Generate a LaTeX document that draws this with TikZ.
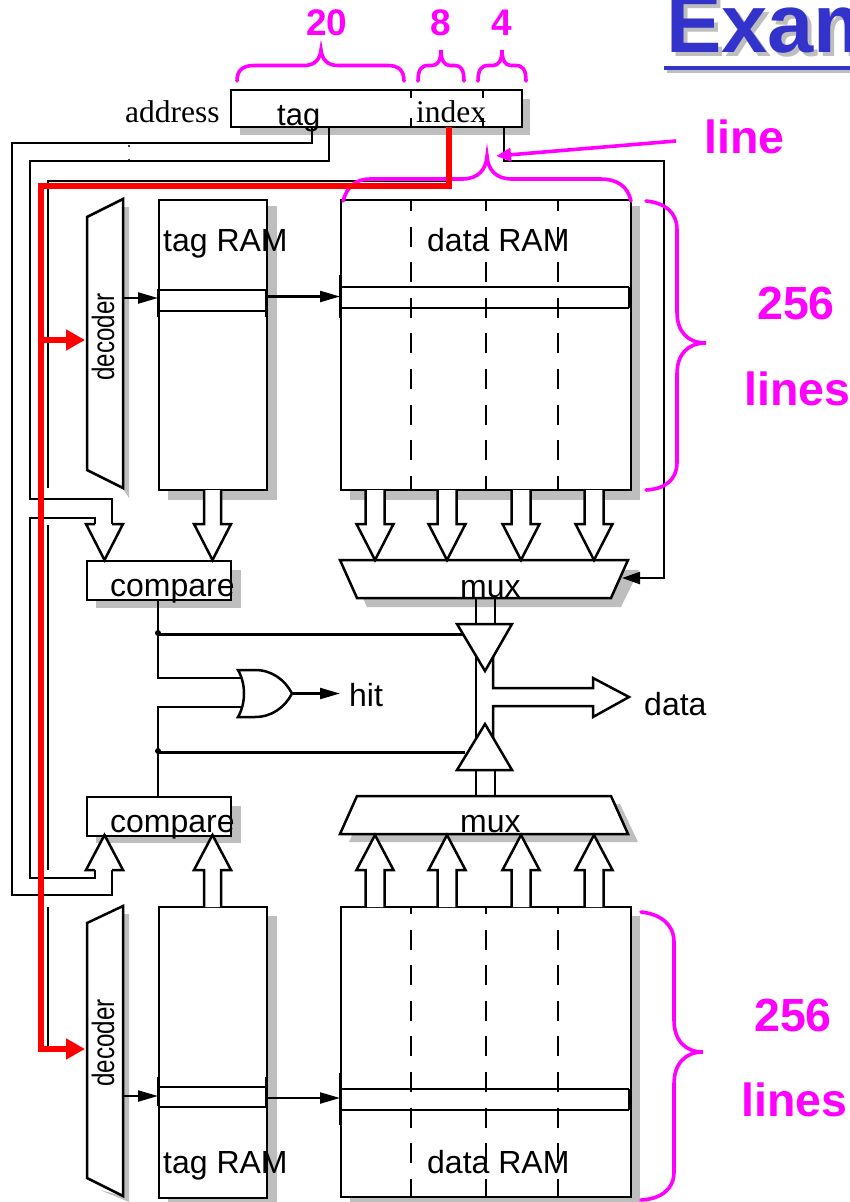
\documentclass[tikz,border=0pt]{standalone}
\usepackage{fontspec}
\setmainfont{Liberation Sans}
\newfontfamily\timesf{Liberation Serif}
\usetikzlibrary{arrows.meta,calc}
\definecolor{mag}{RGB}{255,0,255}
\definecolor{ttl}{RGB}{51,51,204}
\definecolor{shd}{RGB}{190,190,190}
\newcommand{\hollow}[5]{% tip x, start y, neck y, tip y, half stem
  \draw[wire,fill=white,line join=miter] ({#1-#5},#2) -- ({#1-#5},#3) -- ({#1-18.5},#3) -- (#1,#4) -- ({#1+18.5},#3) -- ({#1+#5},#3) -- ({#1+#5},#2);}
\tikzset{
  x=1pt,y=-1pt,
  wire/.style={line width=2.5pt,black},
  thin wire/.style={line width=2.2pt,black},
  ink/.style={draw=black,line width=2.5pt,fill=white,inner sep=0pt,outer sep=0pt},
  rowline/.style={line width=2.5pt},
  cut/.style={line width=2.2pt,dash pattern=on 20pt off 15.6pt},
  lab/.style={inner sep=0pt,anchor=base west,font=\fontsize{32}{36}\selectfont},
  rmn/.style={inner sep=0pt,anchor=base west,font=\timesf\fontsize{31.5}{36}\selectfont},
  big/.style={inner sep=0pt,anchor=base west,text=mag,font=\bfseries\fontsize{46.5}{50}\selectfont},
  bits/.style={inner sep=0pt,anchor=base,text=mag,font=\bfseries\fontsize{37}{40}\selectfont},
  brace/.style={draw=mag,line width=3.6pt,line cap=round},
  head/.style={-{Triangle[length=20pt,width=11pt]},line width=2.2pt},
  redhead/.style={-{Triangle[length=19pt,width=20pt]},line width=6pt,draw=red},
}
\begin{document}
\begin{tikzpicture}
\useasboundingbox (0,0) rectangle (850,1202);
% title
\node[inner sep=0pt,anchor=base west,text=shd,font=\bfseries\fontsize{83}{90}\selectfont] (titleshadow) at (670,56) {Exam};
\node[inner sep=0pt,anchor=base west,text=ttl,font=\bfseries\fontsize{83}{90}\selectfont] (title) at (666,52) {Exam};
\fill[shd] (667,69) rectangle (850,73);
\fill[ttl] (664,66) rectangle (850,70);
% shadows
\fill[shd] (240,99) rectangle (530,135);
\fill[shd] (129,207) -- (123,207) -- (123,489) -- (129,498) -- cycle;
\fill[shd] (168,206) rectangle (277,500);
\fill[shd] (350,206) rectangle (640,500);
\fill[shd] (96,570) rectangle (241,608);
\fill[shd] (96,806) rectangle (241,843);
\fill[shd] (349,568) -- (639,570) -- (621,607) -- (367,607) -- cycle;
\fill[shd] (367,804) -- (620,804) -- (638,842) -- (349,842) -- cycle;
\fill[shd] (129,914) -- (123,914) -- (123,1196) -- (100,1190) -- (129,1202) -- cycle;
\fill[shd] (168,916) rectangle (277,1202);
\fill[shd] (350,916) rectangle (640,1202);
% main boxes
\node[ink,minimum width=291pt,minimum height=37pt] (addr) at (376.5,108.5) {};
\node[ink,minimum width=108pt,minimum height=290pt] (tagA) at (213,345) {};
\node[ink,minimum width=290pt,minimum height=290pt] (dataA) at (486,345) {};
\node[ink,minimum width=108pt,minimum height=291pt] (tagB) at (213,1052.5) {};
\node[ink,minimum width=290pt,minimum height=290pt] (dataB) at (486,1052) {};
\node[ink,minimum width=144pt,minimum height=39pt] (cmpA) at (159,580.5) {};
\node[ink,minimum width=144pt,minimum height=39pt] (cmpB) at (159,816.5) {};
\draw[wire,fill=white] (87,217) -- (123,199) -- (123,488) -- (87,470) -- cycle;
\draw[wire,fill=white] (87,923) -- (123,906) -- (123,1196) -- (87,1178) -- cycle;
\draw[wire,fill=white] (340,560) -- (628,560) -- (611,598) -- (357,598) -- cycle;
\draw[wire,fill=white] (357,796) -- (611,796) -- (628,834) -- (340,834) -- cycle;
% RAM rows
\coordinate (decAout) at (123,298);
\coordinate (rowTagAin) at (158,298);
\coordinate (rowTagAout) at (267,296.5);
\coordinate (rowDataAin) at (340,296.5);
\coordinate (decBout) at (123,1096);
\coordinate (rowTagBin) at (158,1096);
\coordinate (rowTagBout) at (267,1098);
\coordinate (rowDataBin) at (340,1098);
\draw[rowline] (159,290) -- (267,290) (159,311) -- (267,311);
\draw[rowline] (341,287) -- (629,287) (341,308) -- (629,308);
\draw[line width=3pt] (158,289) -- (158,317) (266,289) -- (266,317) (340,275) -- (340,318) (629,287) -- (629,308);
\draw[rowline] (159,1087) -- (267,1087) (159,1107) -- (267,1107);
\draw[rowline] (341,1089) -- (629,1089) (341,1110) -- (629,1110);
\draw[line width=3pt] (158,1077) -- (158,1106) (266,1077) -- (266,1107) (340,1073) -- (340,1125) (629,1089) -- (629,1110);
% column dashes
\foreach \cx in {411,486,558}{
  \draw[cut,dash phase=9pt] (\cx,200) -- (\cx,490);
  \draw[cut,dash phase=13pt] (\cx,907) -- (\cx,1197);
}
\draw[line width=2.2pt] (411,90) -- (411,98) (411,118) -- (411,127) (483,90) -- (483,98) (483,118) -- (483,127);
% wires
\coordinate (tagOutA) at (312,127);
\coordinate (tagOutB) at (329,127);
\coordinate (lineOut) at (504,127);
\draw[wire] (tagOutA) -- (312,143) -- (12,143) -- (12,895) -- (112,895) -- (112,870);
\draw[wire] (tagOutB) -- (329,161) -- (30,161) -- (30,499) -- (112,499) -- (112,524);
\draw[wire] (95,524) -- (95,518) -- (30,518) -- (30,878) -- (95,878) -- (95,870);
\fill (129,146) circle (1.2pt) (129,160) circle (1.2pt);
\draw[wire,fill=white,line join=miter] (95,524) -- (86,524) -- (104.5,560) -- (123,524) -- (112,524);
\draw[wire,fill=white,line join=miter] (95,870) -- (86,870) -- (104.5,835) -- (123,870) -- (112,870);
\hollow{212.5}{490}{524}{560}{8.5}
\hollow{212.5}{907}{870}{835}{8.5}
\foreach \tx in {375,447,521,594}{
  \hollow{\tx}{490}{524}{560}{9.5}
  \hollow{\tx}{907}{870}{835}{9.5}
}
\draw[thin wire] (48,488) -- (48,181) -- (449,181);
\draw[thin wire] (48,525) -- (48,870);
\draw[thin wire] (48,907) -- (48,1049) -- (66,1049);
% line select
\draw[wire,-{Triangle[length=18pt,width=12pt]}] (lineOut) -- (504,161) -- (664,161) -- (664,578) -- (622,578);
% buffers + output
\draw[wire] (476,598) -- (476,624) (495,598) -- (495,624);
\draw[wire] (476,796) -- (476,770) (495,796) -- (495,770);
\draw[wire] (476,650) -- (476,745);
\draw[wire,fill=white] (493,655) -- (493,688) -- (593,688) -- (593,678) -- (629,697) -- (593,717) -- (593,706) -- (493,706) -- (493,740);
\draw[wire,fill=white] (457,624) -- (512,624) -- (485,671) -- cycle;
\draw[wire,fill=white] (457,770) -- (512,770) -- (485,724) -- cycle;
% compare outputs + OR
\coordinate (orInA) at (241,678);
\coordinate (orInB) at (241,707);
\coordinate (orOut) at (293,693.5);
\coordinate (hitEnd) at (340,693.5);
\draw[wire] (158,600) -- (158,678) -- (orInA);
\draw[wire] (158,797) -- (158,707) -- (orInB);
\draw[wire] (158,634.5) -- (464,634.5);
\draw[wire] (158,752.5) -- (465,752.5);
\fill (158,633) circle (3pt) (158,751) circle (3pt);
\draw[wire,fill=white] (238,670) -- (255,670) .. controls (272,670) and (285,680) .. (292,693.5) .. controls (285,707) and (272,717) .. (255,717) -- (238,717) .. controls (246,703) and (246,684) .. (238,670) -- cycle;
\draw[head] (orOut) -- (hitEnd);
% row arrows
\draw[head] (decAout) -- (rowTagAin);
\draw[head] (rowTagAout) -- (rowDataAin);
\draw[head] (decBout) -- (rowTagBin);
\draw[head] (rowTagBout) -- (rowDataBin);
% texts
\node[rmn] (addressT) at (125,122) {address};
\node[lab,font=\fontsize{31}{36}\selectfont] (tagT) at (277,125) {tag};
\node[rmn] (indexT) at (416,122) {index};
\node[lab] (tagAT) at (163,251) {tag RAM};
\node[lab] (dataAT) at (427,251) {data RAM};
\node[lab] (tagBT) at (163,1173) {tag RAM};
\node[lab] (dataBT) at (427,1173) {data RAM};
\node[lab] (cmpAT) at (110,596) {compare};
\node[lab] (cmpBT) at (110,832) {compare};
\node[lab] (muxAT) at (460,597) {mux};
\node[lab] (muxBT) at (460,832) {mux};
\node[lab] (hitT) at (349,706) {hit};
\node[lab] (dataT) at (644,715) {data};
\node[inner sep=0pt,rotate=90,font=\fontsize{31}{36}\selectfont] (decAT) at (103,337) {\scalebox{.78}[1]{decoder}};
\node[inner sep=0pt,rotate=90,font=\fontsize{31}{36}\selectfont] (decBT) at (103,1043) {\scalebox{.78}[1]{decoder}};
% magenta annotations
\draw[brace] (237,81) .. controls (237,70) and (243,65.5) .. (254,65.5) -- (304,65.5) .. controls (314,65.5) and (320,60) .. (321,50) .. controls (322,60) and (328,65.5) .. (338,65.5) -- (388,65.5) .. controls (398,65.5) and (404,70) .. (404,81);
\draw[brace] (418,81) .. controls (418,70) and (421,65.5) .. (428,65.5) -- (432,65.5) .. controls (438,65.5) and (441,60) .. (441,50) .. controls (441,60) and (444,65.5) .. (450,65.5) -- (455,65.5) .. controls (461,65.5) and (464,70) .. (464,81);
\draw[brace] (478,81) .. controls (478,70) and (481,65.5) .. (488,65.5) -- (493,65.5) .. controls (499,65.5) and (502,60) .. (502,50) .. controls (502,60) and (505,65.5) .. (511,65.5) -- (516,65.5) .. controls (523,65.5) and (526,70) .. (526,81);
\draw[brace] (343,201) .. controls (347,187) and (355,179) .. (370,179) -- (462,179) .. controls (478,179) and (486,170) .. (487,156) .. controls (488,170) and (496,179) .. (512,179) -- (600,179) .. controls (618,179) and (628,187) .. (631,201);
\draw[brace] (646,201) .. controls (665,203) and (677,212) .. (677,230) -- (677,312) .. controls (677,332) and (688,343) .. (706,343) .. controls (688,343) and (677,354) .. (677,374) -- (677,462) .. controls (677,480) and (665,489) .. (646,490);
\draw[brace] (641,912) .. controls (660,914) and (674,924) .. (674,942) -- (674,1020) .. controls (674,1040) and (685,1052) .. (703,1052) .. controls (685,1052) and (674,1064) .. (674,1084) -- (674,1172) .. controls (674,1190) and (660,1199) .. (641,1200);
\coordinate (lineTail) at (676,141);
\coordinate (lineTip) at (496,156);
\draw[draw=mag,line width=3.6pt,-{Triangle[length=15pt,width=13pt]}] (lineTail) -- (lineTip);
% red path
\coordinate (redTop) at (449,127);
\draw[draw=red,line width=6pt,line join=miter] (redTop) -- (449,186) -- (41,186) -- (41,1049) -- (66,1049);
\draw[redhead] (41,340) -- (85,340);
\draw[redhead] (60,1049) -- (85,1049);
% magenta text
\node[bits] (n20) at (327,35) {20};
\node[bits] (n8) at (441,35) {8};
\node[bits] (n4) at (502,35) {4};
\node[big] (lineT) at (704,153) {line};
\node[big] (n256a) at (757,319) {256};
\node[big] (linesA) at (744,405) {lines};
\node[big] (n256b) at (754,1031) {256};
\node[big] (linesB) at (741,1116) {lines};
\end{tikzpicture}
\end{document}
